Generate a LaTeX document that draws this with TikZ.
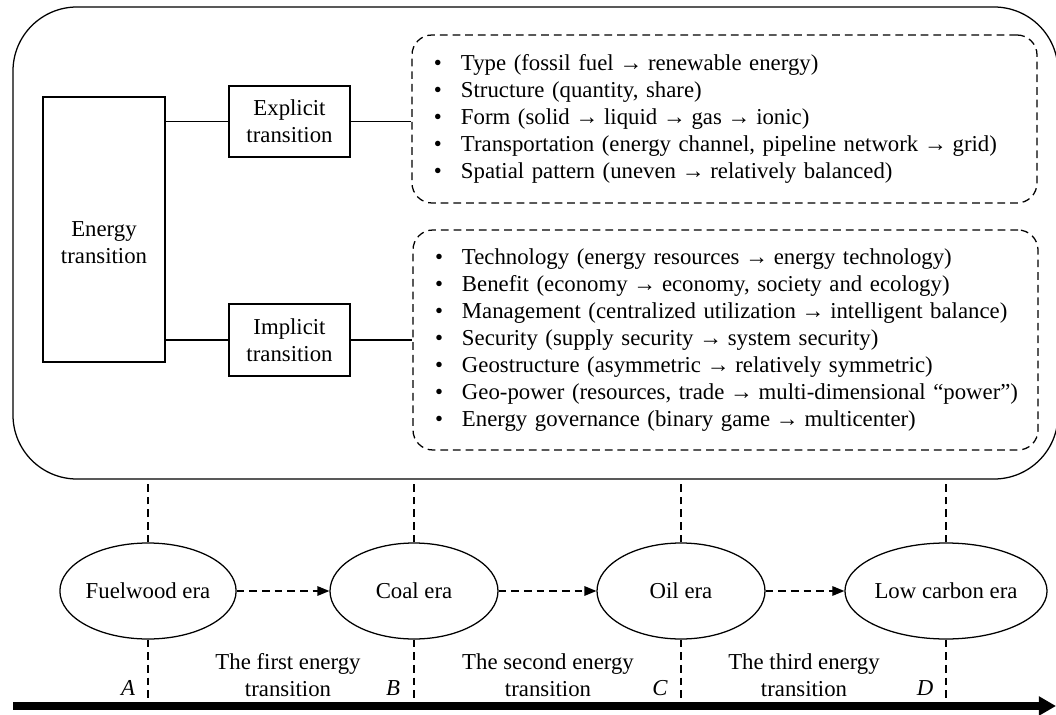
\documentclass[tikz,border=0pt]{standalone}
\usepackage{fontspec}
\setmainfont{Liberation Serif}
\usetikzlibrary{arrows.meta,shapes.geometric}

\newcommand{\itm}[1]{\mbox{\makebox[6.75mm][l]{\textbullet}#1}}
\newcommand{\ra}{\kern-0.08em→\kern-0.08em}

\begin{document}
\begin{tikzpicture}[x=0.25mm,y=-0.25mm,
  every node/.style={font=\fontsize{16.2}{19.2}\selectfont},
  solidbox/.style={draw,line width=0.9pt,align=center,inner sep=0pt},
  listbox/.style={draw,line width=0.9pt,dash pattern=on 5.5pt off 3.5pt,rounded corners=5mm,
    minimum width=156.25mm,text width=145.25mm,inner xsep=5.5mm,inner ysep=0pt,align=left},
  era/.style={draw,ellipse,line width=0.9pt,minimum width=42mm,minimum height=24mm,inner sep=0pt},
  link/.style={line width=0.9pt},
  guide/.style={line width=0.9pt,dash pattern=on 5.5pt off 3.5pt},
  eraarrow/.style={guide,-{Triangle[length=3mm,width=2.4mm]}},
  pointlabel/.style={font=\fontsize{16.2}{19.2}\selectfont\itshape},
  phase/.style={align=center}]
  \useasboundingbox (0,0) rectangle (1056,715);
  \node[draw,line width=0.9pt,rounded corners=16mm,minimum width=261.25mm,minimum height=118mm] (frame) at (535.5,243) {};
  \node[solidbox,minimum width=30.5mm,minimum height=66.25mm,
    label={[align=center,yshift=-3.25mm]center:Energy\\transition}] (energy) at (104,229.5) {};
  \node[solidbox,minimum width=30.25mm,minimum height=17.75mm] (explicit) at (289.5,121.5) {Explicit\\transition};
  \node[solidbox,minimum width=30.25mm,minimum height=18mm] (implicit) at (289.5,340) {Implicit\\transition};
  \node[listbox,minimum height=42mm] (explist) at (724.5,119) {%
    \itm{Type (fossil fuel \ra{} renewable energy)}\\
    \itm{Structure (quantity, share)}\\
    \itm{Form (solid \ra{} liquid \ra{} gas \ra{} ionic)}\\
    \itm{Transportation (energy channel, pipeline network \ra{} grid)}\\
    \itm{Spatial pattern (uneven \ra{} relatively balanced)}};
  \node[listbox,minimum height=55mm] (implist) at (725.5,340) {%
    \itm{Technology (energy resources \ra{} energy technology)}\\
    \itm{Benefit (economy \ra{} economy, society and ecology)}\\
    \itm{Management (centralized utilization \ra{} intelligent balance)}\\
    \itm{Security (supply security \ra{} system security)}\\
    \itm{Geostructure (asymmetric \ra{} relatively symmetric)}\\
    \itm{Geo-power (resources, trade \ra{} multi-dimensional “power”)}\\
    \itm{Energy governance (binary game \ra{} multicenter)}};
  \draw[link] (energy.east |- explicit.west) -- (explicit.west);
  \draw[link] (energy.east |- implicit.west) -- (implicit.west);
  \draw[link] (explicit.east) -- (explicit.east -| explist.west);
  \draw[link] (implicit.east) -- (implicit.east -| implist.west);

  \node[era] (fuelwood) at (148,591) {Fuelwood era};
  \node[era] (coal) at (414,591) {Coal era};
  \node[era] (oil) at (681,591) {Oil era};
  \node[era] (lowcarbon) at (946,591) {Low carbon era};
  \draw[eraarrow] (fuelwood) -- (coal);
  \draw[eraarrow] (coal) -- (oil);
  \draw[eraarrow] (oil) -- (lowcarbon);

  \coordinate (tstart) at (13,706);
  \coordinate (tend) at (1056,706);
  \draw[line width=2mm,-{Triangle[length=4.3mm,width=4.6mm]}] (tstart) -- (tend);
  \foreach \e in {fuelwood,coal,oil,lowcarbon} {
    \draw[guide] (\e.north) -- (\e.north |- frame.south);
    \draw[guide] (\e.south) -- (\e.south |- tstart);
  }
  \node[pointlabel] (pa) at (128,688) {A};
  \node[pointlabel] (pb) at (393,688) {B};
  \node[pointlabel] (pc) at (660,688) {C};
  \node[pointlabel] (pd) at (925,688) {D};
  \node[phase] (first) at (288,675) {The first energy\\transition};
  \node[phase] (second) at (548,675) {The second energy\\transition};
  \node[phase] (third) at (804,675) {The third energy\\transition};
\end{tikzpicture}
\end{document}
